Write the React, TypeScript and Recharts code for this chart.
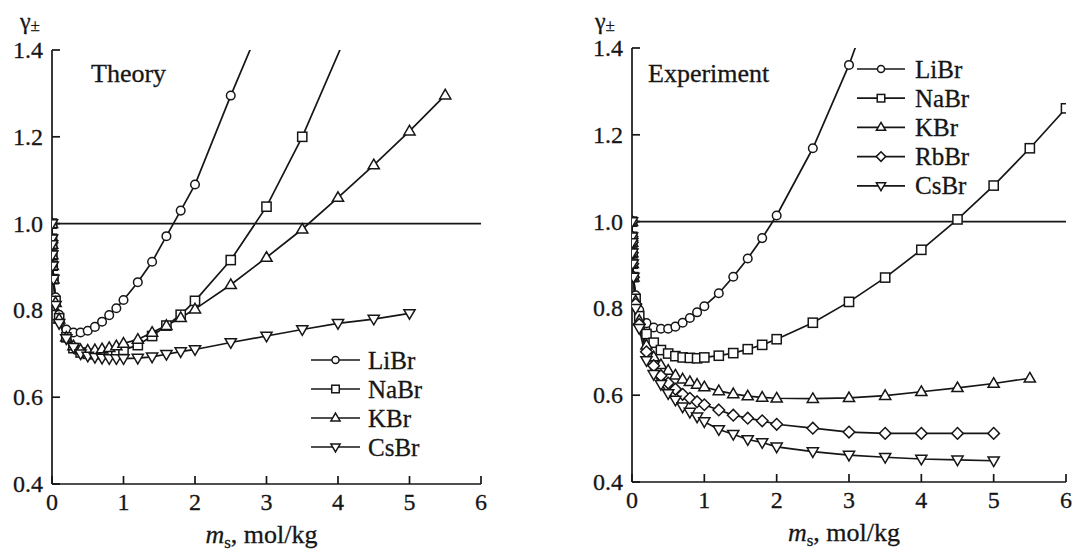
import React from 'react';
import { LineChart, Line, XAxis, YAxis, ReferenceLine } from 'recharts';

// molality grid (mol/kg)
const mGrid = [0, 0.001, 0.002, 0.005, 0.01, 0.02, 0.05, 0.1, 0.2, 0.3, 0.4, 0.5, 0.6, 0.7, 0.8, 0.9, 1.0, 1.2, 1.4, 1.6, 1.8, 2.0, 2.5, 3.0, 3.5, 4.0, 4.5, 5.0, 5.5, 6.0];

// Theory
const thLiBr = [1.0, 0.965, 0.952, 0.928, 0.903, 0.872, 0.83, 0.79, 0.756, 0.749, 0.749, 0.753, 0.762, 0.774, 0.789, 0.805, 0.824, 0.865, 0.912, 0.971, 1.03, 1.09, 1.295, 1.49, null, null, null, null, null, null];
const thNaBr = [1.0, 0.965, 0.952, 0.928, 0.903, 0.872, 0.822, 0.782, 0.738, 0.713, 0.703, 0.7, 0.699, 0.7, 0.701, 0.704, 0.709, 0.72, 0.741, 0.765, 0.79, 0.822, 0.916, 1.039, 1.2, null, 1.58, null, null, null];
const thKBr = [1.0, 0.965, 0.952, 0.928, 0.903, 0.872, 0.818, 0.78, 0.738, 0.718, 0.709, 0.708, 0.709, 0.711, 0.714, 0.718, 0.724, 0.733, 0.749, 0.765, 0.783, 0.803, 0.859, 0.922, 0.987, 1.06, 1.135, 1.213, 1.296, null];
const thCsBr = [1.0, 0.965, 0.952, 0.928, 0.903, 0.872, 0.812, 0.77, 0.735, 0.715, 0.7, 0.695, 0.692, 0.69, 0.689, 0.689, 0.689, 0.69, 0.693, 0.699, 0.705, 0.71, 0.726, 0.741, 0.756, 0.77, 0.78, 0.793, null, null];

// Experiment
const exLiBr = [1.0, 0.965, 0.952, 0.928, 0.903, 0.872, 0.83, 0.796, 0.766, 0.756, 0.753, 0.753, 0.758, 0.767, 0.778, 0.791, 0.805, 0.835, 0.873, 0.915, 0.962, 1.014, 1.169, 1.361, 1.59, null, null, null, null, null];
const exNaBr = [1.0, 0.965, 0.952, 0.928, 0.903, 0.872, 0.822, 0.782, 0.741, 0.721, 0.704, 0.696, 0.69, 0.687, 0.686, 0.685, 0.687, 0.691, 0.697, 0.706, 0.716, 0.729, 0.767, 0.815, 0.871, 0.935, 1.005, 1.083, 1.169, 1.261];
const exKBr = [1.0, 0.965, 0.952, 0.928, 0.903, 0.872, 0.817, 0.772, 0.715, 0.688, 0.67, 0.657, 0.646, 0.637, 0.631, 0.625, 0.619, 0.61, 0.603, 0.598, 0.595, 0.593, 0.592, 0.594, 0.599, 0.608, 0.617, 0.627, 0.639, null];
const exRbBr = [1.0, 0.965, 0.952, 0.928, 0.903, 0.872, 0.81, 0.763, 0.7, 0.668, 0.645, 0.628, 0.614, 0.602, 0.593, 0.585, 0.578, 0.566, 0.554, 0.547, 0.541, 0.533, 0.524, 0.515, 0.512, 0.512, 0.512, 0.512, null, null];
const exCsBr = [1.0, 0.965, 0.952, 0.928, 0.903, 0.872, 0.8, 0.754, 0.68, 0.648, 0.625, 0.604, 0.589, 0.573, 0.561, 0.55, 0.539, 0.521, 0.51, 0.498, 0.491, 0.481, 0.47, 0.462, 0.457, 0.453, 0.451, 0.449, null, null];

const xTicks = [0, 1, 2, 3, 4, 5, 6];
const yTicks = [0.4, 0.6, 0.8, 1.0, 1.2, 1.4];
const Y_MAX = 1.4;

const FONT = "'Liberation Serif', 'Times New Roman', serif";
const INK = '#161616';
const txtStyle = { fontFamily: FONT };
const txtProps = { fill: INK, stroke: INK, strokeWidth: 0.3, style: txtStyle };

type Shape = 'circle' | 'square' | 'triangle' | 'invTriangle' | 'diamond';

const toData = (arr: (number | null)[]) =>
  mGrid.map((m, i) => ({ m, g: arr[i] })).filter((d) => d.g != null);

function Marker({ shape, x, y, s = 1 }: { shape: Shape; x: number; y: number; s?: number }) {
  const common = { fill: '#fff', stroke: INK, strokeWidth: 1.5 };
  if (shape === 'circle') return <circle cx={x} cy={y} r={4.3 * s} {...common} />;
  if (shape === 'square') {
    const h = 4.6 * s;
    return <rect x={x - h} y={y - h} width={2 * h} height={2 * h} {...common} />;
  }
  if (shape === 'diamond') {
    const h = 5.8 * s;
    return <path d={`M${x},${y - h}L${x + h},${y}L${x},${y + h}L${x - h},${y}Z`} {...common} />;
  }
  const w = 5.6 * s;
  const hh = 4.8 * s;
  if (shape === 'triangle')
    return <path d={`M${x},${y - hh - 1}L${x + w},${y + hh - 1}L${x - w},${y + hh - 1}Z`} {...common} />;
  return <path d={`M${x},${y + hh + 1}L${x + w},${y - hh + 1}L${x - w},${y - hh + 1}Z`} {...common} />;
}

const makeDot = (shape: Shape) => (props: any) => {
  const { cx, cy, index, payload } = props;
  const key = `dot-${shape}-${index}`;
  if (cx == null || cy == null || !payload || payload.g > Y_MAX) return <g key={key} />;
  return (
    <g key={key}>
      <Marker shape={shape} x={cx} y={cy} />
    </g>
  );
};

function XTick(props: any) {
  const { x, y, payload } = props;
  return (
    <text x={x} y={y + 17} textAnchor="middle" fontSize={24} {...txtProps}>
      {String(payload.value)}
    </text>
  );
}

function YTick(props: any) {
  const { x, y, payload } = props;
  return (
    <text x={x} y={y + 8} textAnchor="end" fontSize={24} {...txtProps}>
      {Number(payload.value).toFixed(1)}
    </text>
  );
}

function XLabel(props: any) {
  const vb = props.viewBox || {};
  const cx = vb.x + vb.width / 2 - 5;
  const y = vb.y + 59;
  return (
    <text x={cx} y={y} textAnchor="middle" fontSize={26} {...txtProps}>
      <tspan fontStyle="italic">m</tspan>
      <tspan fontSize={17} dy={5}>s</tspan>
      <tspan dy={-5}>, mol/kg</tspan>
    </text>
  );
}

type SeriesDef = { name: string; shape: Shape; values: (number | null)[] };

const theorySeries: SeriesDef[] = [
  { name: 'LiBr', shape: 'circle', values: thLiBr },
  { name: 'NaBr', shape: 'square', values: thNaBr },
  { name: 'KBr', shape: 'triangle', values: thKBr },
  { name: 'CsBr', shape: 'invTriangle', values: thCsBr },
];

const expSeries: SeriesDef[] = [
  { name: 'LiBr', shape: 'circle', values: exLiBr },
  { name: 'NaBr', shape: 'square', values: exNaBr },
  { name: 'KBr', shape: 'triangle', values: exKBr },
  { name: 'RbBr', shape: 'diamond', values: exRbBr },
  { name: 'CsBr', shape: 'invTriangle', values: exCsBr },
];

function Panel({ series, width, height, margin, yAxisWidth, xAxisHeight }: any) {
  return (
    <LineChart width={width} height={height} margin={margin}>
      <XAxis
        dataKey="m"
        type="number"
        domain={[0, 6]}
        ticks={xTicks}
        allowDataOverflow
        height={xAxisHeight}
        tickSize={-8}
        tickMargin={17}
        tick={<XTick />}
        axisLine={{ stroke: INK, strokeWidth: 1.7 }}
        tickLine={{ stroke: INK, strokeWidth: 1.7 }}
        label={<XLabel />}
      />
      <YAxis
        type="number"
        domain={[0.4, 1.4]}
        ticks={yTicks}
        allowDataOverflow
        width={yAxisWidth}
        tickSize={-8}
        tickMargin={17}
        tick={<YTick />}
        axisLine={{ stroke: INK, strokeWidth: 1.7 }}
        tickLine={{ stroke: INK, strokeWidth: 1.7 }}
      />
      <ReferenceLine y={1.0} stroke={INK} strokeWidth={1.7} />
      {series.map((s: SeriesDef) => (
        <Line
          key={s.name}
          data={toData(s.values)}
          dataKey="g"
          type="linear"
          stroke={INK}
          strokeWidth={1.7}
          dot={makeDot(s.shape)}
          activeDot={false}
          isAnimationActive={false}
          connectNulls
        />
      ))}
    </LineChart>
  );
}

function LegendBox({ items, y0, gap, lx1, lx2, tx }: any) {
  return (
    <g>
      {items.map((it: SeriesDef, i: number) => {
        const y = y0 + i * gap;
        const mx = (lx1 + lx2) / 2;
        return (
          <g key={it.name}>
            <line x1={lx1} x2={lx2} y1={y} y2={y} stroke={INK} strokeWidth={1.7} />
            <Marker shape={it.shape} x={mx} y={y} s={0.82} />
            <text x={tx} y={y + 8.5} fontSize={25} {...txtProps}>
              {it.name}
            </text>
          </g>
        );
      })}
    </g>
  );
}

export default function App() {
  return (
    <div style={{ position: 'absolute', left: 0, top: 0, width: 1072, height: 552, background: '#fff' }}>
      <div style={{ position: 'absolute', left: 0, top: 0 }}>
        <Panel
          series={theorySeries}
          width={536}
          height={552}
          margin={{ top: 50, right: 55, bottom: 0, left: 0 }}
          yAxisWidth={52}
          xAxisHeight={68}
        />
      </div>
      <div style={{ position: 'absolute', left: 536, top: 0 }}>
        <Panel
          series={expSeries}
          width={536}
          height={552}
          margin={{ top: 48, right: 6, bottom: 0, left: 0 }}
          yAxisWidth={96}
          xAxisHeight={70}
        />
      </div>
      <svg
        width={1072}
        height={552}
        style={{ position: 'absolute', left: 0, top: 0, pointerEvents: 'none' }}
      >
        <text x={20} y={29} fontSize={24} {...txtProps}>
          γ<tspan fontSize={17} dy={2}>±</tspan>
        </text>
        <text x={595} y={29} fontSize={24} {...txtProps}>
          γ<tspan fontSize={17} dy={2}>±</tspan>
        </text>
        <text x={91} y={82} fontSize={26} {...txtProps}>
          Theory
        </text>
        <text x={648} y={82} fontSize={26} {...txtProps}>
          Experiment
        </text>
        <LegendBox items={theorySeries} y0={360} gap={29} lx1={311} lx2={360} tx={368} />
        <LegendBox items={expSeries} y0={69} gap={29.2} lx1={857} lx2={905} tx={915} />
      </svg>
    </div>
  );
}
